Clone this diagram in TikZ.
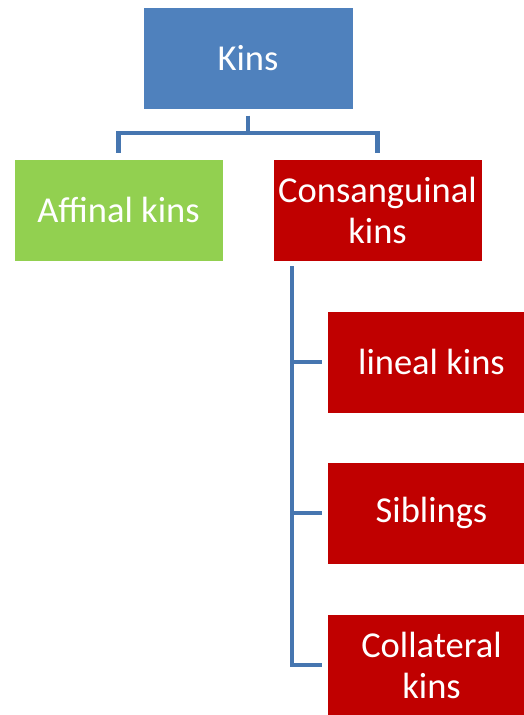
\documentclass[tikz,border=0pt]{standalone}
\usepackage{fontspec}
\setmainfont{Carlito}
\definecolor{kinblue}{HTML}{4F81BD}
\definecolor{kingreen}{HTML}{92D050}
\definecolor{kinred}{HTML}{C00000}
\definecolor{linkblue}{HTML}{4676B0}
\tikzset{
  kinbox/.style={draw=white, line width=1pt, minimum width=209pt, minimum height=102pt,
    inner sep=0pt, align=center, text=white, font=\fontsize{36.5}{41}\selectfont},
  link/.style={draw=linkblue, line width=4.5pt}
}
\begin{document}
\begin{tikzpicture}[x=1pt, y=-1pt]
  \useasboundingbox (0,0) rectangle (524,715);
  \clip (0,0) rectangle (524,715);
  \fill[white] (0,0) rectangle (524,715);

  % top level
  \node[kinbox, fill=kinblue, minimum width=210pt] (kins) at (248,58) {Kins};
  % second level
  \node[kinbox, fill=kingreen] (aff) at (118.5,210) {Affinal kins};
  \node[kinbox, fill=kinred] (con) at (377.5,210) {Consanguinal\\kins};
  % third level
  \node[kinbox, fill=kinred] (lin) at (431.5,362) {lineal kins};
  \node[kinbox, fill=kinred] (sib) at (431.5,513) {Siblings};
  \node[kinbox, fill=kinred] (col) at (431.5,665) {Collateral\\kins};

  % connectors under Kins
  \coordinate (bar) at (248,133);
  \coordinate (trunk) at (292,266);
  \draw[link] ([yshift=-6pt]kins.south) -- (bar);
  \draw[link] ([yshift=6pt]aff.north) |- (bar) -| ([yshift=6pt]con.north);
  % trunk under Consanguinal kins
  \draw[link, shorten >=5pt] (trunk) |- (col.west);
  \draw[link, shorten >=5pt] (trunk |- lin.west) -- (lin.west);
  \draw[link, shorten >=5pt] (trunk |- sib.west) -- (sib.west);
\end{tikzpicture}
\end{document}
